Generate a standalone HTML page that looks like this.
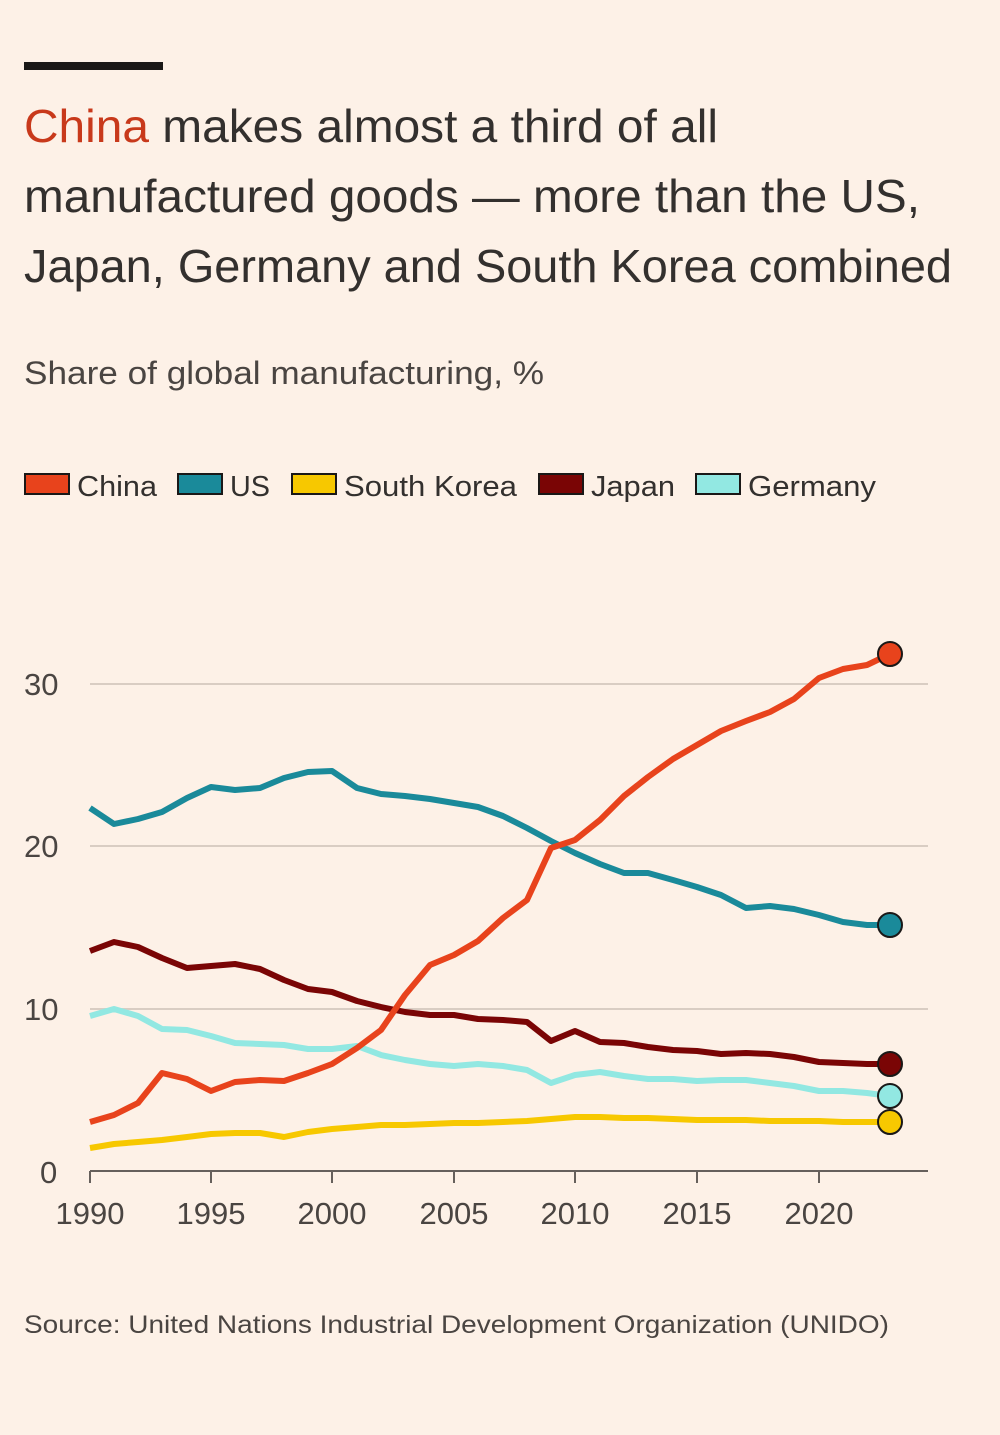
<!DOCTYPE html>
<html><head><meta charset="utf-8"><style>
html,body{margin:0;padding:0;background:#fdf1e7;}
body{width:1000px;height:1435px;position:relative;overflow:hidden;font-family:"Liberation Sans",sans-serif;color:#33302e;}
.bar{position:absolute;left:24px;top:62px;width:139px;height:8px;background:#1a1817;}
</style></head><body>
<div class="bar"></div>
<svg width="1000" height="1435" style="position:absolute;left:0;top:0" font-family="Liberation Sans, sans-serif">
<g font-size="46" fill="#33302e">
<text x="24" y="142" textLength="694" lengthAdjust="spacingAndGlyphs"><tspan fill="#c8391b">China</tspan> makes almost a third of all</text>
<text x="24" y="212" textLength="896" lengthAdjust="spacingAndGlyphs">manufactured goods — more than the US,</text>
<text x="24" y="282" textLength="928" lengthAdjust="spacingAndGlyphs">Japan, Germany and South Korea combined</text>
</g>
<text x="24" y="384" font-size="32" fill="#4a4542" textLength="520" lengthAdjust="spacingAndGlyphs">Share of global manufacturing, %</text>
<text x="24" y="1333" font-size="25" fill="#4a4542" textLength="865" lengthAdjust="spacingAndGlyphs">Source: United Nations Industrial Development Organization (UNIDO)</text>
<g font-size="29" fill="#33302e">
<rect x="25" y="474" width="44" height="20" fill="#e8431c" stroke="#1a1817" stroke-width="2"/><text x="77" y="496" textLength="80" lengthAdjust="spacingAndGlyphs">China</text>
<rect x="178" y="474" width="44" height="20" fill="#1a8a9a" stroke="#1a1817" stroke-width="2"/><text x="230" y="496" textLength="40" lengthAdjust="spacingAndGlyphs">US</text>
<rect x="292" y="474" width="44" height="20" fill="#f7c800" stroke="#1a1817" stroke-width="2"/><text x="344" y="496" textLength="173" lengthAdjust="spacingAndGlyphs">South Korea</text>
<rect x="539" y="474" width="44" height="20" fill="#7a0505" stroke="#1a1817" stroke-width="2"/><text x="591" y="496" textLength="84" lengthAdjust="spacingAndGlyphs">Japan</text>
<rect x="696" y="474" width="44" height="20" fill="#92e8e2" stroke="#1a1817" stroke-width="2"/><text x="748" y="496" textLength="128" lengthAdjust="spacingAndGlyphs">Germany</text>
</g>
<g stroke="#d9cdc3" stroke-width="2">
<line x1="90" x2="928" y1="684" y2="684"/><line x1="90" x2="928" y1="846" y2="846"/><line x1="90" x2="928" y1="1009" y2="1009"/>
</g>
<line x1="90" x2="928" y1="1171" y2="1171" stroke="#66605c" stroke-width="2"/>
<g stroke="#66605c" stroke-width="2">
<line x1="90" x2="90" y1="1171" y2="1183"/><line x1="211" x2="211" y1="1171" y2="1183"/><line x1="332" x2="332" y1="1171" y2="1183"/><line x1="454" x2="454" y1="1171" y2="1183"/><line x1="575" x2="575" y1="1171" y2="1183"/><line x1="697" x2="697" y1="1171" y2="1183"/><line x1="819" x2="819" y1="1171" y2="1183"/>
</g>
<g font-size="31" fill="#4a4542">
<text x="24" y="695">30</text><text x="24" y="857">20</text><text x="24" y="1020">10</text><text x="40" y="1183">0</text>
<g text-anchor="middle"><text x="90" y="1224">1990</text><text x="211" y="1224">1995</text><text x="332" y="1224">2000</text><text x="454" y="1224">2005</text><text x="575" y="1224">2010</text><text x="697" y="1224">2015</text><text x="819" y="1224">2020</text></g>
</g>
<g fill="none" stroke-width="6" stroke-linejoin="round">
<polyline stroke="#f7c800" points="90,1148 114,1144 138,1142 162,1140 187,1137 211,1134 235,1133 260,1133 284,1137 308,1132 332,1129 357,1127 381,1125 405,1125 430,1124 454,1123 478,1123 503,1122 527,1121 551,1119 575,1117 600,1117 624,1118 648,1118 673,1119 697,1120 721,1120 746,1120 770,1121 794,1121 819,1121 843,1122 867,1122 890,1122"/>
<polyline stroke="#92e8e2" points="90,1016 114,1009 138,1016 162,1029 187,1030 211,1036 235,1043 260,1044 284,1045 308,1049 332,1049 357,1046 381,1055 405,1060 430,1064 454,1066 478,1064 503,1066 527,1070 551,1083 575,1075 600,1072 624,1076 648,1079 673,1079 697,1081 721,1080 746,1080 770,1083 794,1086 819,1091 843,1091 867,1093 890,1096"/>
<polyline stroke="#7a0505" points="90,951 114,942 138,947 162,958 187,968 211,966 235,964 260,969 284,980 308,989 332,992 357,1001 381,1007 405,1012 430,1015 454,1015 478,1019 503,1020 527,1022 551,1041 575,1031 600,1042 624,1043 648,1047 673,1050 697,1051 721,1054 746,1053 770,1054 794,1057 819,1062 843,1063 867,1064 890,1064"/>
<polyline stroke="#1a8a9a" points="90,808 114,824 138,819 162,812 187,798 211,787 235,790 260,788 284,778 308,772 332,771 357,788 381,794 405,796 430,799 454,803 478,807 503,816 527,828 551,841 575,853 600,864 624,873 648,873 673,880 697,887 721,895 746,908 770,906 794,909 819,915 843,922 867,925 890,925"/>
<polyline stroke="#e8431c" points="90,1122 114,1115 138,1103 162,1073 187,1079 211,1091 235,1082 260,1080 284,1081 308,1073 332,1064 357,1048 381,1030 405,995 430,965 454,955 478,941 503,918 527,900 551,848 575,840 600,820 624,796 648,777 673,759 697,745 721,731 746,721 770,712 794,699 819,678 843,669 867,665 890,654"/>
</g>
<g stroke="#1a1817" stroke-width="2">
<circle cx="890" cy="654" r="12" fill="#e8431c"/>
<circle cx="890" cy="925" r="12" fill="#1a8a9a"/>
<circle cx="890" cy="1064" r="12" fill="#7a0505"/>
<circle cx="890" cy="1096" r="12" fill="#92e8e2"/>
<circle cx="890" cy="1122" r="12" fill="#f7c800"/>
</g>
</svg>
</body></html>
